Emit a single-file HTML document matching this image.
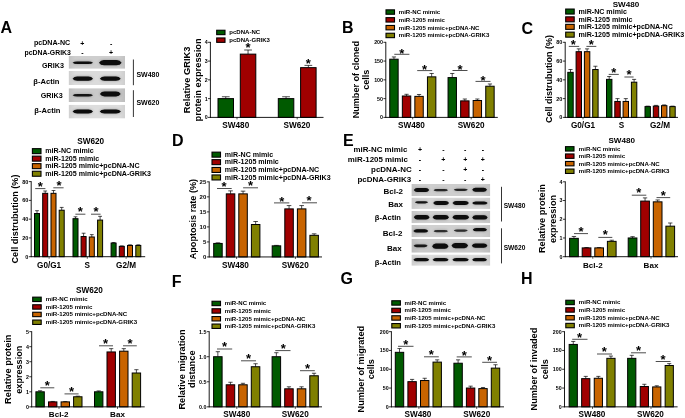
<!DOCTYPE html>
<html><head><meta charset="utf-8"><title>figure</title>
<style>html,body{margin:0;padding:0;background:#fff}svg{display:block;filter:blur(0.3px)}text{font-family:"Liberation Sans",Arial,Helvetica,sans-serif;font-weight:bold;fill:#000}</style></head>
<body>
<svg width="685" height="418" viewBox="0 0 685 418">
<defs><filter id="bl" x="-30%" y="-100%" width="160%" height="300%"><feGaussianBlur stdDeviation="0.7"/></filter><filter id="bh" x="-40%" y="-200%" width="180%" height="500%"><feGaussianBlur stdDeviation="1.6"/></filter><linearGradient id="vg" x1="0" x2="1" y1="0" y2="0"><stop offset="0" stop-color="#000" stop-opacity="0.06"/><stop offset="0.12" stop-color="#000" stop-opacity="0"/><stop offset="0.88" stop-color="#000" stop-opacity="0"/><stop offset="1" stop-color="#000" stop-opacity="0.06"/></linearGradient></defs>
<rect width="685" height="418" fill="#fff"/>
<text x="0.6" y="32.9" font-size="16" text-anchor="start">A</text>
<clipPath id="c1"><rect x="68.6" y="56.0" width="56.40" height="12.80"/></clipPath>
<g clip-path="url(#c1)">
<rect x="68.6" y="56.0" width="56.40" height="12.80" fill="#cecece"/>
<rect x="68.6" y="56.0" width="56.40" height="12.80" fill="url(#vg)"/>
<path d="M72.60,62.80 Q74.03,61.55 77.19,61.55 L88.41,61.55 Q91.57,61.55 93.00,62.80 Q91.57,64.05 88.41,64.05 L77.19,64.05 Q74.03,64.05 72.60,62.80Z" fill="#000" opacity="0.30" filter="url(#bh)"/>
<path d="M72.60,62.80 Q74.03,61.55 77.19,61.55 L88.41,61.55 Q91.57,61.55 93.00,62.80 Q91.57,64.05 88.41,64.05 L77.19,64.05 Q74.03,64.05 72.60,62.80Z" fill="#080808" opacity="1" filter="url(#bl)"/>
<path d="M99.00,62.70 Q100.58,60.10 104.08,60.10 L116.52,60.10 Q120.02,60.10 121.60,62.70 Q120.02,65.30 116.52,65.30 L104.08,65.30 Q100.58,65.30 99.00,62.70Z" fill="#000" opacity="0.30" filter="url(#bh)"/>
<path d="M99.00,62.70 Q100.58,60.10 104.08,60.10 L116.52,60.10 Q120.02,60.10 121.60,62.70 Q120.02,65.30 116.52,65.30 L104.08,65.30 Q100.58,65.30 99.00,62.70Z" fill="#080808" opacity="1" filter="url(#bl)"/>
</g>
<clipPath id="c2"><rect x="68.6" y="71.0" width="56.40" height="14.10"/></clipPath>
<g clip-path="url(#c2)">
<rect x="68.6" y="71.0" width="56.40" height="14.10" fill="#dbdbdb"/>
<rect x="68.6" y="71.0" width="56.40" height="14.10" fill="url(#vg)"/>
<path d="M72.60,78.65 Q74.03,76.55 77.19,76.55 L88.41,76.55 Q91.57,76.55 93.00,78.65 Q91.57,80.75 88.41,80.75 L77.19,80.75 Q74.03,80.75 72.60,78.65Z" fill="#000" opacity="0.30" filter="url(#bh)"/>
<path d="M72.60,78.65 Q74.03,76.55 77.19,76.55 L88.41,76.55 Q91.57,76.55 93.00,78.65 Q91.57,80.75 88.41,80.75 L77.19,80.75 Q74.03,80.75 72.60,78.65Z" fill="#080808" opacity="1" filter="url(#bl)"/>
<path d="M99.90,78.65 Q101.36,76.55 104.58,76.55 L116.02,76.55 Q119.24,76.55 120.70,78.65 Q119.24,80.75 116.02,80.75 L104.58,80.75 Q101.36,80.75 99.90,78.65Z" fill="#000" opacity="0.30" filter="url(#bh)"/>
<path d="M99.90,78.65 Q101.36,76.55 104.58,76.55 L116.02,76.55 Q119.24,76.55 120.70,78.65 Q119.24,80.75 116.02,80.75 L104.58,80.75 Q101.36,80.75 99.90,78.65Z" fill="#080808" opacity="1" filter="url(#bl)"/>
</g>
<clipPath id="c3"><rect x="68.6" y="88.2" width="56.40" height="13.80"/></clipPath>
<g clip-path="url(#c3)">
<rect x="68.6" y="88.2" width="56.40" height="13.80" fill="#c9c9c9"/>
<rect x="68.6" y="88.2" width="56.40" height="13.80" fill="url(#vg)"/>
<path d="M72.60,95.30 Q74.03,94.10 77.19,94.10 L88.41,94.10 Q91.57,94.10 93.00,95.30 Q91.57,96.50 88.41,96.50 L77.19,96.50 Q74.03,96.50 72.60,95.30Z" fill="#000" opacity="0.28" filter="url(#bh)"/>
<path d="M72.60,95.30 Q74.03,94.10 77.19,94.10 L88.41,94.10 Q91.57,94.10 93.00,95.30 Q91.57,96.50 88.41,96.50 L77.19,96.50 Q74.03,96.50 72.60,95.30Z" fill="#080808" opacity="0.95" filter="url(#bl)"/>
<path d="M99.90,94.00 Q101.36,91.60 104.58,91.60 L116.02,91.60 Q119.24,91.60 120.70,94.00 Q119.24,96.40 116.02,96.40 L104.58,96.40 Q101.36,96.40 99.90,94.00Z" fill="#000" opacity="0.30" filter="url(#bh)"/>
<path d="M99.90,94.00 Q101.36,91.60 104.58,91.60 L116.02,91.60 Q119.24,91.60 120.70,94.00 Q119.24,96.40 116.02,96.40 L104.58,96.40 Q101.36,96.40 99.90,94.00Z" fill="#080808" opacity="1" filter="url(#bl)"/>
</g>
<clipPath id="c4"><rect x="68.6" y="104.7" width="56.40" height="13.90"/></clipPath>
<g clip-path="url(#c4)">
<rect x="68.6" y="104.7" width="56.40" height="13.90" fill="#dddddd"/>
<rect x="68.6" y="104.7" width="56.40" height="13.90" fill="url(#vg)"/>
<path d="M72.60,111.55 Q74.03,109.55 77.19,109.55 L88.41,109.55 Q91.57,109.55 93.00,111.55 Q91.57,113.55 88.41,113.55 L77.19,113.55 Q74.03,113.55 72.60,111.55Z" fill="#000" opacity="0.30" filter="url(#bh)"/>
<path d="M72.60,111.55 Q74.03,109.55 77.19,109.55 L88.41,109.55 Q91.57,109.55 93.00,111.55 Q91.57,113.55 88.41,113.55 L77.19,113.55 Q74.03,113.55 72.60,111.55Z" fill="#080808" opacity="1" filter="url(#bl)"/>
<path d="M99.70,111.55 Q101.18,109.55 104.47,109.55 L116.13,109.55 Q119.42,109.55 120.90,111.55 Q119.42,113.55 116.13,113.55 L104.47,113.55 Q101.18,113.55 99.70,111.55Z" fill="#000" opacity="0.30" filter="url(#bh)"/>
<path d="M99.70,111.55 Q101.18,109.55 104.47,109.55 L116.13,109.55 Q119.42,109.55 120.90,111.55 Q119.42,113.55 116.13,113.55 L104.47,113.55 Q101.18,113.55 99.70,111.55Z" fill="#080808" opacity="1" filter="url(#bl)"/>
</g>
<text x="70.2" y="44.8" font-size="7.1" text-anchor="end">pcDNA-NC</text>
<text x="70.9" y="54.5" font-size="6.9" text-anchor="end">pcDNA-GRIK3</text>
<text x="82.3" y="45.7" font-size="7.0" text-anchor="middle">+</text>
<text x="111.1" y="45.7" font-size="7.0" text-anchor="middle">-</text>
<text x="82.3" y="55.4" font-size="7.0" text-anchor="middle">-</text>
<text x="111.1" y="55.4" font-size="7.0" text-anchor="middle">+</text>
<text x="63.9" y="68.0" font-size="7.2" text-anchor="end">GRIK3</text>
<text x="59.5" y="84.0" font-size="7.6" text-anchor="end">β-Actin</text>
<text x="62.7" y="98.2" font-size="7.2" text-anchor="end">GRIK3</text>
<text x="60.5" y="113.3" font-size="7.6" text-anchor="end">β-Actin</text>
<line x1="133.40" y1="59.50" x2="133.40" y2="85.20" stroke="#000" stroke-width="0.8"/>
<line x1="133.40" y1="90.20" x2="133.40" y2="117.00" stroke="#000" stroke-width="0.8"/>
<text x="136.4" y="76.6" font-size="7.0" text-anchor="start">SW480</text>
<text x="136.4" y="105.4" font-size="7.0" text-anchor="start">SW620</text>
<line x1="225.75" y1="98.62" x2="225.75" y2="96.75" stroke="#000" stroke-width="0.7"/>
<line x1="221.88" y1="96.75" x2="229.62" y2="96.75" stroke="#000" stroke-width="0.7"/>
<rect x="218.00" y="98.62" width="15.50" height="18.78" fill="#005a00" stroke="#000" stroke-width="1.0"/>
<line x1="248.05" y1="54.13" x2="248.05" y2="50.00" stroke="#000" stroke-width="0.7"/>
<line x1="244.18" y1="50.00" x2="251.93" y2="50.00" stroke="#000" stroke-width="0.7"/>
<rect x="240.30" y="54.13" width="15.50" height="63.27" fill="#a00000" stroke="#000" stroke-width="1.0"/>
<line x1="286.05" y1="98.62" x2="286.05" y2="96.75" stroke="#000" stroke-width="0.7"/>
<line x1="282.18" y1="96.75" x2="289.93" y2="96.75" stroke="#000" stroke-width="0.7"/>
<rect x="278.30" y="98.62" width="15.50" height="18.78" fill="#005a00" stroke="#000" stroke-width="1.0"/>
<line x1="308.35" y1="67.65" x2="308.35" y2="65.39" stroke="#000" stroke-width="0.7"/>
<line x1="304.48" y1="65.39" x2="312.23" y2="65.39" stroke="#000" stroke-width="0.7"/>
<rect x="300.60" y="67.65" width="15.50" height="49.75" fill="#a00000" stroke="#000" stroke-width="1.0"/>
<line x1="210.40" y1="41.90" x2="210.40" y2="117.80" stroke="#000" stroke-width="0.9"/>
<line x1="210.00" y1="117.40" x2="323.50" y2="117.40" stroke="#000" stroke-width="0.9"/>
<line x1="208.00" y1="117.40" x2="210.40" y2="117.40" stroke="#000" stroke-width="0.8"/>
<text x="207.6" y="119.31" font-size="5.3" text-anchor="end">0</text>
<line x1="208.00" y1="98.62" x2="210.40" y2="98.62" stroke="#000" stroke-width="0.8"/>
<text x="207.6" y="100.53" font-size="5.3" text-anchor="end">1</text>
<line x1="208.00" y1="79.85" x2="210.40" y2="79.85" stroke="#000" stroke-width="0.8"/>
<text x="207.6" y="81.76" font-size="5.3" text-anchor="end">2</text>
<line x1="208.00" y1="61.08" x2="210.40" y2="61.08" stroke="#000" stroke-width="0.8"/>
<text x="207.6" y="62.98" font-size="5.3" text-anchor="end">3</text>
<line x1="208.00" y1="42.30" x2="210.40" y2="42.30" stroke="#000" stroke-width="0.8"/>
<text x="207.6" y="44.21" font-size="5.3" text-anchor="end">4</text>
<line x1="237.00" y1="117.40" x2="237.00" y2="119.40" stroke="#000" stroke-width="0.7"/>
<text x="235.8" y="127.9" font-size="8.2" text-anchor="middle">SW480</text>
<line x1="297.20" y1="117.40" x2="297.20" y2="119.40" stroke="#000" stroke-width="0.7"/>
<text x="296.9" y="127.9" font-size="8.2" text-anchor="middle">SW620</text>
<text x="190.1" y="79.9" font-size="9.3" text-anchor="middle" transform="rotate(-90 190.1 79.9)">Relative GRIK3</text>
<text x="200.6" y="79.9" font-size="9.3" text-anchor="middle" transform="rotate(-90 200.6 79.9)">protein expression</text>
<text x="248.1" y="52.4" font-size="13" text-anchor="middle" font-weight="normal">*</text>
<text x="308.3" y="68.0" font-size="13" text-anchor="middle" font-weight="normal">*</text>
<rect x="216.70" y="30.25" width="8.30" height="4.4" fill="#005a00" stroke="#000" stroke-width="1.1"/>
<text x="229.3" y="34.38" font-size="6.05" text-anchor="start">pcDNA-NC</text>
<rect x="216.70" y="37.95" width="8.30" height="4.4" fill="#a00000" stroke="#000" stroke-width="1.1"/>
<text x="229.3" y="42.08" font-size="6.05" text-anchor="start">pcDNA-GRIK3</text>
<text x="342.1" y="33.3" font-size="16" text-anchor="start">B</text>
<line x1="393.95" y1="59.20" x2="393.95" y2="56.94" stroke="#000" stroke-width="0.7"/>
<line x1="391.85" y1="56.94" x2="396.05" y2="56.94" stroke="#000" stroke-width="0.7"/>
<rect x="389.75" y="59.20" width="8.40" height="58.20" fill="#005a00" stroke="#000" stroke-width="1.0"/>
<line x1="406.55" y1="96.00" x2="406.55" y2="94.31" stroke="#000" stroke-width="0.7"/>
<line x1="404.45" y1="94.31" x2="408.65" y2="94.31" stroke="#000" stroke-width="0.7"/>
<rect x="402.35" y="96.00" width="8.40" height="21.40" fill="#a00000" stroke="#000" stroke-width="1.0"/>
<line x1="419.05" y1="96.37" x2="419.05" y2="94.49" stroke="#000" stroke-width="0.7"/>
<line x1="416.95" y1="94.49" x2="421.15" y2="94.49" stroke="#000" stroke-width="0.7"/>
<rect x="414.85" y="96.37" width="8.40" height="21.03" fill="#c86400" stroke="#000" stroke-width="1.0"/>
<line x1="431.65" y1="76.85" x2="431.65" y2="73.47" stroke="#000" stroke-width="0.7"/>
<line x1="429.55" y1="73.47" x2="433.75" y2="73.47" stroke="#000" stroke-width="0.7"/>
<rect x="427.45" y="76.85" width="8.40" height="40.55" fill="#808000" stroke="#000" stroke-width="1.0"/>
<line x1="452.25" y1="77.60" x2="452.25" y2="73.47" stroke="#000" stroke-width="0.7"/>
<line x1="450.15" y1="73.47" x2="454.35" y2="73.47" stroke="#000" stroke-width="0.7"/>
<rect x="448.05" y="77.60" width="8.40" height="39.80" fill="#005a00" stroke="#000" stroke-width="1.0"/>
<line x1="464.85" y1="100.88" x2="464.85" y2="99.00" stroke="#000" stroke-width="0.7"/>
<line x1="462.75" y1="99.00" x2="466.95" y2="99.00" stroke="#000" stroke-width="0.7"/>
<rect x="460.65" y="100.88" width="8.40" height="16.52" fill="#a00000" stroke="#000" stroke-width="1.0"/>
<line x1="477.35" y1="100.50" x2="477.35" y2="99.00" stroke="#000" stroke-width="0.7"/>
<line x1="475.25" y1="99.00" x2="479.45" y2="99.00" stroke="#000" stroke-width="0.7"/>
<rect x="473.15" y="100.50" width="8.40" height="16.90" fill="#c86400" stroke="#000" stroke-width="1.0"/>
<line x1="489.95" y1="86.23" x2="489.95" y2="83.98" stroke="#000" stroke-width="0.7"/>
<line x1="487.85" y1="83.98" x2="492.05" y2="83.98" stroke="#000" stroke-width="0.7"/>
<rect x="485.75" y="86.23" width="8.40" height="31.17" fill="#808000" stroke="#000" stroke-width="1.0"/>
<line x1="385.80" y1="41.90" x2="385.80" y2="117.80" stroke="#000" stroke-width="0.9"/>
<line x1="385.40" y1="117.40" x2="497.80" y2="117.40" stroke="#000" stroke-width="0.9"/>
<line x1="383.40" y1="117.40" x2="385.80" y2="117.40" stroke="#000" stroke-width="0.8"/>
<text x="383.0" y="119.31" font-size="5.3" text-anchor="end">0</text>
<line x1="383.40" y1="98.62" x2="385.80" y2="98.62" stroke="#000" stroke-width="0.8"/>
<text x="383.0" y="100.53" font-size="5.3" text-anchor="end">50</text>
<line x1="383.40" y1="79.85" x2="385.80" y2="79.85" stroke="#000" stroke-width="0.8"/>
<text x="383.0" y="81.76" font-size="5.3" text-anchor="end">100</text>
<line x1="383.40" y1="61.07" x2="385.80" y2="61.07" stroke="#000" stroke-width="0.8"/>
<text x="383.0" y="62.98" font-size="5.3" text-anchor="end">150</text>
<line x1="383.40" y1="42.30" x2="385.80" y2="42.30" stroke="#000" stroke-width="0.8"/>
<text x="383.0" y="44.21" font-size="5.3" text-anchor="end">200</text>
<line x1="412.70" y1="117.40" x2="412.70" y2="119.40" stroke="#000" stroke-width="0.7"/>
<text x="411.5" y="127.9" font-size="8.2" text-anchor="middle">SW480</text>
<line x1="471.20" y1="117.40" x2="471.20" y2="119.40" stroke="#000" stroke-width="0.7"/>
<text x="471.1" y="127.9" font-size="8.2" text-anchor="middle">SW620</text>
<line x1="394.30" y1="54.30" x2="409.40" y2="54.30" stroke="#000" stroke-width="0.7"/>
<text x="401.8" y="57.5" font-size="13" text-anchor="middle" font-weight="normal">*</text>
<line x1="417.20" y1="70.60" x2="432.20" y2="70.60" stroke="#000" stroke-width="0.7"/>
<text x="424.5" y="73.79999999999998" font-size="13" text-anchor="middle" font-weight="normal">*</text>
<line x1="452.50" y1="70.50" x2="467.50" y2="70.50" stroke="#000" stroke-width="0.7"/>
<text x="460" y="73.69999999999999" font-size="13" text-anchor="middle" font-weight="normal">*</text>
<line x1="475.50" y1="81.40" x2="490.50" y2="81.40" stroke="#000" stroke-width="0.7"/>
<text x="483" y="84.6" font-size="13" text-anchor="middle" font-weight="normal">*</text>
<text x="358.6" y="79.7" font-size="9.1" text-anchor="middle" transform="rotate(-90 358.6 79.7)">Number of cloned</text>
<text x="369.3" y="79.7" font-size="9.1" text-anchor="middle" transform="rotate(-90 369.3 79.7)">cells</text>
<rect x="386.00" y="9.85" width="8.50" height="4.4" fill="#005a00" stroke="#000" stroke-width="1.1"/>
<text x="398.8" y="13.99" font-size="6.07" text-anchor="start">miR-NC mimic</text>
<rect x="386.00" y="17.65" width="8.50" height="4.4" fill="#a00000" stroke="#000" stroke-width="1.1"/>
<text x="398.8" y="21.79" font-size="6.07" text-anchor="start">miR-1205 mimic</text>
<rect x="386.00" y="25.45" width="8.50" height="4.4" fill="#c86400" stroke="#000" stroke-width="1.1"/>
<text x="398.8" y="29.59" font-size="6.07" text-anchor="start">miR-1205 mimic+pcDNA-NC</text>
<rect x="386.00" y="33.25" width="8.50" height="4.4" fill="#808000" stroke="#000" stroke-width="1.1"/>
<text x="398.8" y="37.39" font-size="6.07" text-anchor="start">miR-1205 mimic+pcDNA-GRIK3</text>
<text x="521.5" y="33.6" font-size="16" text-anchor="start">C</text>
<line x1="570.50" y1="72.34" x2="570.50" y2="69.52" stroke="#000" stroke-width="0.7"/>
<line x1="568.45" y1="69.52" x2="572.55" y2="69.52" stroke="#000" stroke-width="0.7"/>
<rect x="567.80" y="72.34" width="5.40" height="45.06" fill="#005a00" stroke="#000" stroke-width="1.0"/>
<line x1="578.80" y1="51.69" x2="578.80" y2="48.87" stroke="#000" stroke-width="0.7"/>
<line x1="576.75" y1="48.87" x2="580.85" y2="48.87" stroke="#000" stroke-width="0.7"/>
<rect x="576.10" y="51.69" width="5.40" height="65.71" fill="#a00000" stroke="#000" stroke-width="1.0"/>
<line x1="587.10" y1="51.69" x2="587.10" y2="48.87" stroke="#000" stroke-width="0.7"/>
<line x1="585.05" y1="48.87" x2="589.15" y2="48.87" stroke="#000" stroke-width="0.7"/>
<rect x="584.40" y="51.69" width="5.40" height="65.71" fill="#c86400" stroke="#000" stroke-width="1.0"/>
<line x1="595.40" y1="69.52" x2="595.40" y2="66.24" stroke="#000" stroke-width="0.7"/>
<line x1="593.35" y1="66.24" x2="597.45" y2="66.24" stroke="#000" stroke-width="0.7"/>
<rect x="592.70" y="69.52" width="5.40" height="47.88" fill="#808000" stroke="#000" stroke-width="1.0"/>
<line x1="609.20" y1="79.38" x2="609.20" y2="76.56" stroke="#000" stroke-width="0.7"/>
<line x1="607.15" y1="76.56" x2="611.25" y2="76.56" stroke="#000" stroke-width="0.7"/>
<rect x="606.50" y="79.38" width="5.40" height="38.02" fill="#005a00" stroke="#000" stroke-width="1.0"/>
<line x1="617.50" y1="101.44" x2="617.50" y2="98.62" stroke="#000" stroke-width="0.7"/>
<line x1="615.45" y1="98.62" x2="619.55" y2="98.62" stroke="#000" stroke-width="0.7"/>
<rect x="614.80" y="101.44" width="5.40" height="15.96" fill="#a00000" stroke="#000" stroke-width="1.0"/>
<line x1="625.80" y1="101.44" x2="625.80" y2="98.62" stroke="#000" stroke-width="0.7"/>
<line x1="623.75" y1="98.62" x2="627.85" y2="98.62" stroke="#000" stroke-width="0.7"/>
<rect x="623.10" y="101.44" width="5.40" height="15.96" fill="#c86400" stroke="#000" stroke-width="1.0"/>
<line x1="634.10" y1="82.20" x2="634.10" y2="79.38" stroke="#000" stroke-width="0.7"/>
<line x1="632.05" y1="79.38" x2="636.15" y2="79.38" stroke="#000" stroke-width="0.7"/>
<rect x="631.40" y="82.20" width="5.40" height="35.20" fill="#808000" stroke="#000" stroke-width="1.0"/>
<line x1="647.70" y1="106.60" x2="647.70" y2="106.14" stroke="#000" stroke-width="0.7"/>
<line x1="645.65" y1="106.14" x2="649.75" y2="106.14" stroke="#000" stroke-width="0.7"/>
<rect x="645.00" y="106.60" width="5.40" height="10.80" fill="#005a00" stroke="#000" stroke-width="1.0"/>
<line x1="656.00" y1="106.14" x2="656.00" y2="105.38" stroke="#000" stroke-width="0.7"/>
<line x1="653.95" y1="105.38" x2="658.05" y2="105.38" stroke="#000" stroke-width="0.7"/>
<rect x="653.30" y="106.14" width="5.40" height="11.27" fill="#a00000" stroke="#000" stroke-width="1.0"/>
<line x1="664.20" y1="105.67" x2="664.20" y2="104.91" stroke="#000" stroke-width="0.7"/>
<line x1="662.15" y1="104.91" x2="666.25" y2="104.91" stroke="#000" stroke-width="0.7"/>
<rect x="661.50" y="105.67" width="5.40" height="11.73" fill="#c86400" stroke="#000" stroke-width="1.0"/>
<line x1="672.50" y1="106.60" x2="672.50" y2="106.14" stroke="#000" stroke-width="0.7"/>
<line x1="670.45" y1="106.14" x2="674.55" y2="106.14" stroke="#000" stroke-width="0.7"/>
<rect x="669.80" y="106.60" width="5.40" height="10.80" fill="#808000" stroke="#000" stroke-width="1.0"/>
<line x1="565.20" y1="41.90" x2="565.20" y2="117.80" stroke="#000" stroke-width="0.9"/>
<line x1="564.80" y1="117.40" x2="678.00" y2="117.40" stroke="#000" stroke-width="0.9"/>
<line x1="562.80" y1="117.40" x2="565.20" y2="117.40" stroke="#000" stroke-width="0.8"/>
<text x="562.4000000000001" y="119.38" font-size="5.5" text-anchor="end">0</text>
<line x1="562.80" y1="98.62" x2="565.20" y2="98.62" stroke="#000" stroke-width="0.8"/>
<text x="562.4000000000001" y="100.61" font-size="5.5" text-anchor="end">20</text>
<line x1="562.80" y1="79.85" x2="565.20" y2="79.85" stroke="#000" stroke-width="0.8"/>
<text x="562.4000000000001" y="81.83" font-size="5.5" text-anchor="end">40</text>
<line x1="562.80" y1="61.08" x2="565.20" y2="61.08" stroke="#000" stroke-width="0.8"/>
<text x="562.4000000000001" y="63.05" font-size="5.5" text-anchor="end">60</text>
<line x1="562.80" y1="42.30" x2="565.20" y2="42.30" stroke="#000" stroke-width="0.8"/>
<text x="562.4000000000001" y="44.28" font-size="5.5" text-anchor="end">80</text>
<line x1="583.00" y1="117.40" x2="583.00" y2="119.40" stroke="#000" stroke-width="0.7"/>
<text x="583.0" y="128.2" font-size="8.2" text-anchor="middle">G0/G1</text>
<line x1="621.50" y1="117.40" x2="621.50" y2="119.40" stroke="#000" stroke-width="0.7"/>
<text x="621.5" y="128.2" font-size="8.2" text-anchor="middle">S</text>
<line x1="660.00" y1="117.40" x2="660.00" y2="119.40" stroke="#000" stroke-width="0.7"/>
<text x="660.0" y="128.2" font-size="8.2" text-anchor="middle">G2/M</text>
<line x1="568.80" y1="46.40" x2="579.20" y2="46.40" stroke="#000" stroke-width="0.7"/>
<text x="573.3" y="48.9" font-size="13" text-anchor="middle" font-weight="normal">*</text>
<line x1="586.40" y1="46.40" x2="596.30" y2="46.40" stroke="#000" stroke-width="0.7"/>
<text x="591.4" y="48.9" font-size="13" text-anchor="middle" font-weight="normal">*</text>
<line x1="608.70" y1="74.40" x2="618.80" y2="74.40" stroke="#000" stroke-width="0.7"/>
<text x="613.7" y="76.5" font-size="13" text-anchor="middle" font-weight="normal">*</text>
<line x1="624.40" y1="77.00" x2="633.60" y2="77.00" stroke="#000" stroke-width="0.7"/>
<text x="629.1" y="79.1" font-size="13" text-anchor="middle" font-weight="normal">*</text>
<text x="552.0" y="79" font-size="9.0" text-anchor="middle" transform="rotate(-90 552.0 79)">Cell distrubution (%)</text>
<rect x="565.70" y="9.05" width="8.50" height="5.0" fill="#005a00" stroke="#000" stroke-width="1.1"/>
<text x="578.4" y="13.86" font-size="7.1" text-anchor="start">miR-NC mimic</text>
<rect x="565.70" y="16.85" width="8.50" height="5.0" fill="#a00000" stroke="#000" stroke-width="1.1"/>
<text x="578.4" y="21.66" font-size="7.1" text-anchor="start">miR-1205 mimic</text>
<rect x="565.70" y="24.35" width="8.50" height="5.0" fill="#c86400" stroke="#000" stroke-width="1.1"/>
<text x="578.4" y="29.16" font-size="7.1" text-anchor="start">miR-1205 mimic+pcDNA-NC</text>
<rect x="565.70" y="32.15" width="8.50" height="5.0" fill="#808000" stroke="#000" stroke-width="1.1"/>
<text x="578.4" y="36.96" font-size="7.1" text-anchor="start">miR-1205 mimic+pcDNA-GRIK3</text>
<text x="626" y="6.8" font-size="8.1" text-anchor="middle">SW480</text>
<line x1="37.00" y1="213.52" x2="37.00" y2="210.70" stroke="#000" stroke-width="0.7"/>
<line x1="35.10" y1="210.70" x2="38.90" y2="210.70" stroke="#000" stroke-width="0.7"/>
<rect x="34.50" y="213.52" width="5.00" height="43.18" fill="#005a00" stroke="#000" stroke-width="1.0"/>
<line x1="45.20" y1="193.33" x2="45.20" y2="190.99" stroke="#000" stroke-width="0.7"/>
<line x1="43.30" y1="190.99" x2="47.10" y2="190.99" stroke="#000" stroke-width="0.7"/>
<rect x="42.70" y="193.33" width="5.00" height="63.37" fill="#a00000" stroke="#000" stroke-width="1.0"/>
<line x1="53.50" y1="193.33" x2="53.50" y2="190.52" stroke="#000" stroke-width="0.7"/>
<line x1="51.60" y1="190.52" x2="55.40" y2="190.52" stroke="#000" stroke-width="0.7"/>
<rect x="51.00" y="193.33" width="5.00" height="63.37" fill="#c86400" stroke="#000" stroke-width="1.0"/>
<line x1="61.70" y1="210.23" x2="61.70" y2="207.42" stroke="#000" stroke-width="0.7"/>
<line x1="59.80" y1="207.42" x2="63.60" y2="207.42" stroke="#000" stroke-width="0.7"/>
<rect x="59.20" y="210.23" width="5.00" height="46.47" fill="#808000" stroke="#000" stroke-width="1.0"/>
<line x1="75.50" y1="218.68" x2="75.50" y2="216.80" stroke="#000" stroke-width="0.7"/>
<line x1="73.60" y1="216.80" x2="77.40" y2="216.80" stroke="#000" stroke-width="0.7"/>
<rect x="73.00" y="218.68" width="5.00" height="38.02" fill="#005a00" stroke="#000" stroke-width="1.0"/>
<line x1="83.60" y1="236.52" x2="83.60" y2="233.23" stroke="#000" stroke-width="0.7"/>
<line x1="81.70" y1="233.23" x2="85.50" y2="233.23" stroke="#000" stroke-width="0.7"/>
<rect x="81.10" y="236.52" width="5.00" height="20.18" fill="#a00000" stroke="#000" stroke-width="1.0"/>
<line x1="91.80" y1="236.99" x2="91.80" y2="234.64" stroke="#000" stroke-width="0.7"/>
<line x1="89.90" y1="234.64" x2="93.70" y2="234.64" stroke="#000" stroke-width="0.7"/>
<rect x="89.30" y="236.99" width="5.00" height="19.71" fill="#c86400" stroke="#000" stroke-width="1.0"/>
<line x1="100.10" y1="220.09" x2="100.10" y2="216.33" stroke="#000" stroke-width="0.7"/>
<line x1="98.20" y1="216.33" x2="102.00" y2="216.33" stroke="#000" stroke-width="0.7"/>
<rect x="97.60" y="220.09" width="5.00" height="36.61" fill="#808000" stroke="#000" stroke-width="1.0"/>
<line x1="113.60" y1="243.09" x2="113.60" y2="242.52" stroke="#000" stroke-width="0.7"/>
<line x1="111.70" y1="242.52" x2="115.50" y2="242.52" stroke="#000" stroke-width="0.7"/>
<rect x="111.10" y="243.09" width="5.00" height="13.61" fill="#005a00" stroke="#000" stroke-width="1.0"/>
<line x1="121.80" y1="246.37" x2="121.80" y2="245.90" stroke="#000" stroke-width="0.7"/>
<line x1="119.90" y1="245.90" x2="123.70" y2="245.90" stroke="#000" stroke-width="0.7"/>
<rect x="119.30" y="246.37" width="5.00" height="10.33" fill="#a00000" stroke="#000" stroke-width="1.0"/>
<line x1="130.00" y1="245.44" x2="130.00" y2="244.87" stroke="#000" stroke-width="0.7"/>
<line x1="128.10" y1="244.87" x2="131.90" y2="244.87" stroke="#000" stroke-width="0.7"/>
<rect x="127.50" y="245.44" width="5.00" height="11.26" fill="#c86400" stroke="#000" stroke-width="1.0"/>
<line x1="138.30" y1="245.44" x2="138.30" y2="244.87" stroke="#000" stroke-width="0.7"/>
<line x1="136.40" y1="244.87" x2="140.20" y2="244.87" stroke="#000" stroke-width="0.7"/>
<rect x="135.80" y="245.44" width="5.00" height="11.26" fill="#808000" stroke="#000" stroke-width="1.0"/>
<line x1="31.20" y1="181.20" x2="31.20" y2="257.10" stroke="#000" stroke-width="0.9"/>
<line x1="30.80" y1="256.70" x2="145.20" y2="256.70" stroke="#000" stroke-width="0.9"/>
<line x1="28.80" y1="256.70" x2="31.20" y2="256.70" stroke="#000" stroke-width="0.8"/>
<text x="28.4" y="258.68" font-size="5.5" text-anchor="end">0</text>
<line x1="28.80" y1="237.92" x2="31.20" y2="237.92" stroke="#000" stroke-width="0.8"/>
<text x="28.4" y="239.9" font-size="5.5" text-anchor="end">20</text>
<line x1="28.80" y1="219.15" x2="31.20" y2="219.15" stroke="#000" stroke-width="0.8"/>
<text x="28.4" y="221.13" font-size="5.5" text-anchor="end">40</text>
<line x1="28.80" y1="200.38" x2="31.20" y2="200.38" stroke="#000" stroke-width="0.8"/>
<text x="28.4" y="202.35" font-size="5.5" text-anchor="end">60</text>
<line x1="28.80" y1="181.60" x2="31.20" y2="181.60" stroke="#000" stroke-width="0.8"/>
<text x="28.4" y="183.58" font-size="5.5" text-anchor="end">80</text>
<line x1="49.10" y1="256.70" x2="49.10" y2="258.70" stroke="#000" stroke-width="0.7"/>
<text x="49.1" y="267.7" font-size="8.2" text-anchor="middle">G0/G1</text>
<line x1="87.30" y1="256.70" x2="87.30" y2="258.70" stroke="#000" stroke-width="0.7"/>
<text x="87.3" y="267.7" font-size="8.2" text-anchor="middle">S</text>
<line x1="126.10" y1="256.70" x2="126.10" y2="258.70" stroke="#000" stroke-width="0.7"/>
<text x="126.1" y="267.7" font-size="8.2" text-anchor="middle">G2/M</text>
<line x1="35.20" y1="188.60" x2="45.40" y2="188.60" stroke="#000" stroke-width="0.7"/>
<text x="40.2" y="190.79999999999998" font-size="13" text-anchor="middle" font-weight="normal">*</text>
<line x1="53.30" y1="187.80" x2="63.60" y2="187.80" stroke="#000" stroke-width="0.7"/>
<text x="59.0" y="189.8" font-size="13" text-anchor="middle" font-weight="normal">*</text>
<line x1="75.40" y1="214.20" x2="85.40" y2="214.20" stroke="#000" stroke-width="0.7"/>
<text x="80.4" y="216.29999999999998" font-size="13" text-anchor="middle" font-weight="normal">*</text>
<line x1="91.00" y1="214.20" x2="100.60" y2="214.20" stroke="#000" stroke-width="0.7"/>
<text x="96.0" y="216.29999999999998" font-size="13" text-anchor="middle" font-weight="normal">*</text>
<text x="18.4" y="219" font-size="9.1" text-anchor="middle" transform="rotate(-90 18.4 219)">Cell distrubution (%)</text>
<rect x="32.40" y="148.65" width="8.60" height="5.0" fill="#005a00" stroke="#000" stroke-width="1.1"/>
<text x="45.2" y="153.46" font-size="7.1" text-anchor="start">miR-NC mimic</text>
<rect x="32.40" y="156.15" width="8.60" height="5.0" fill="#a00000" stroke="#000" stroke-width="1.1"/>
<text x="45.2" y="160.96" font-size="7.1" text-anchor="start">miR-1205 mimic</text>
<rect x="32.40" y="163.65" width="8.60" height="5.0" fill="#c86400" stroke="#000" stroke-width="1.1"/>
<text x="45.2" y="168.46" font-size="7.1" text-anchor="start">miR-1205 mimic+pcDNA-NC</text>
<rect x="32.40" y="171.25" width="8.60" height="5.0" fill="#808000" stroke="#000" stroke-width="1.1"/>
<text x="45.2" y="176.06" font-size="7.1" text-anchor="start">miR-1205 mimic+pcDNA-GRIK3</text>
<text x="90.7" y="144.1" font-size="8.2" text-anchor="middle">SW620</text>
<text x="172.05" y="145.5" font-size="16" text-anchor="start">D</text>
<line x1="217.95" y1="243.43" x2="217.95" y2="242.83" stroke="#000" stroke-width="0.7"/>
<line x1="215.66" y1="242.83" x2="220.24" y2="242.83" stroke="#000" stroke-width="0.7"/>
<rect x="213.70" y="243.43" width="8.50" height="13.52" fill="#005a00" stroke="#000" stroke-width="1.0"/>
<line x1="230.55" y1="193.87" x2="230.55" y2="190.86" stroke="#000" stroke-width="0.7"/>
<line x1="228.26" y1="190.86" x2="232.84" y2="190.86" stroke="#000" stroke-width="0.7"/>
<rect x="226.30" y="193.87" width="8.50" height="63.08" fill="#a00000" stroke="#000" stroke-width="1.0"/>
<line x1="243.05" y1="193.87" x2="243.05" y2="191.16" stroke="#000" stroke-width="0.7"/>
<line x1="240.76" y1="191.16" x2="245.34" y2="191.16" stroke="#000" stroke-width="0.7"/>
<rect x="238.80" y="193.87" width="8.50" height="63.08" fill="#c86400" stroke="#000" stroke-width="1.0"/>
<line x1="255.65" y1="224.51" x2="255.65" y2="221.50" stroke="#000" stroke-width="0.7"/>
<line x1="253.35" y1="221.50" x2="257.94" y2="221.50" stroke="#000" stroke-width="0.7"/>
<rect x="251.40" y="224.51" width="8.50" height="32.44" fill="#808000" stroke="#000" stroke-width="1.0"/>
<line x1="276.45" y1="245.84" x2="276.45" y2="245.38" stroke="#000" stroke-width="0.7"/>
<line x1="274.15" y1="245.38" x2="278.75" y2="245.38" stroke="#000" stroke-width="0.7"/>
<rect x="272.20" y="245.84" width="8.50" height="11.11" fill="#005a00" stroke="#000" stroke-width="1.0"/>
<line x1="289.05" y1="208.89" x2="289.05" y2="205.58" stroke="#000" stroke-width="0.7"/>
<line x1="286.75" y1="205.58" x2="291.35" y2="205.58" stroke="#000" stroke-width="0.7"/>
<rect x="284.80" y="208.89" width="8.50" height="48.06" fill="#a00000" stroke="#000" stroke-width="1.0"/>
<line x1="301.65" y1="208.89" x2="301.65" y2="205.58" stroke="#000" stroke-width="0.7"/>
<line x1="299.35" y1="205.58" x2="303.94" y2="205.58" stroke="#000" stroke-width="0.7"/>
<rect x="297.40" y="208.89" width="8.50" height="48.06" fill="#c86400" stroke="#000" stroke-width="1.0"/>
<line x1="314.15" y1="235.32" x2="314.15" y2="233.82" stroke="#000" stroke-width="0.7"/>
<line x1="311.85" y1="233.82" x2="316.44" y2="233.82" stroke="#000" stroke-width="0.7"/>
<rect x="309.90" y="235.32" width="8.50" height="21.63" fill="#808000" stroke="#000" stroke-width="1.0"/>
<line x1="209.20" y1="181.45" x2="209.20" y2="257.35" stroke="#000" stroke-width="0.9"/>
<line x1="208.80" y1="256.95" x2="322.00" y2="256.95" stroke="#000" stroke-width="0.9"/>
<line x1="206.90" y1="256.95" x2="209.20" y2="256.95" stroke="#000" stroke-width="0.8"/>
<text x="206.29999999999998" y="259.11" font-size="6.0" text-anchor="end">0</text>
<line x1="206.90" y1="241.93" x2="209.20" y2="241.93" stroke="#000" stroke-width="0.8"/>
<text x="206.29999999999998" y="244.09" font-size="6.0" text-anchor="end">5</text>
<line x1="206.90" y1="226.91" x2="209.20" y2="226.91" stroke="#000" stroke-width="0.8"/>
<text x="206.29999999999998" y="229.07" font-size="6.0" text-anchor="end">10</text>
<line x1="206.90" y1="211.89" x2="209.20" y2="211.89" stroke="#000" stroke-width="0.8"/>
<text x="206.29999999999998" y="214.05" font-size="6.0" text-anchor="end">15</text>
<line x1="206.90" y1="196.87" x2="209.20" y2="196.87" stroke="#000" stroke-width="0.8"/>
<text x="206.29999999999998" y="199.03" font-size="6.0" text-anchor="end">20</text>
<line x1="206.90" y1="181.85" x2="209.20" y2="181.85" stroke="#000" stroke-width="0.8"/>
<text x="206.29999999999998" y="184.01" font-size="6.0" text-anchor="end">25</text>
<line x1="236.60" y1="256.95" x2="236.60" y2="258.95" stroke="#000" stroke-width="0.7"/>
<text x="235.4" y="267.6" font-size="8.2" text-anchor="middle">SW480</text>
<line x1="295.40" y1="256.95" x2="295.40" y2="258.95" stroke="#000" stroke-width="0.7"/>
<text x="295.3" y="267.6" font-size="8.2" text-anchor="middle">SW620</text>
<line x1="217.00" y1="188.50" x2="231.70" y2="188.50" stroke="#000" stroke-width="0.7"/>
<text x="224" y="191.2" font-size="13" text-anchor="middle" font-weight="normal">*</text>
<line x1="243.10" y1="187.80" x2="258.00" y2="187.80" stroke="#000" stroke-width="0.7"/>
<text x="250.6" y="190.4" font-size="13" text-anchor="middle" font-weight="normal">*</text>
<line x1="274.00" y1="202.90" x2="289.30" y2="202.90" stroke="#000" stroke-width="0.7"/>
<text x="281.7" y="205.5" font-size="13" text-anchor="middle" font-weight="normal">*</text>
<line x1="302.00" y1="202.80" x2="317.00" y2="202.80" stroke="#000" stroke-width="0.7"/>
<text x="309" y="205.4" font-size="13" text-anchor="middle" font-weight="normal">*</text>
<text x="195.6" y="219.1" font-size="9.1" text-anchor="middle" transform="rotate(-90 195.6 219.1)">Apoptosis rate (%)</text>
<rect x="212.00" y="152.15" width="8.50" height="5.0" fill="#005a00" stroke="#000" stroke-width="1.1"/>
<text x="224.8" y="156.96" font-size="7.1" text-anchor="start">miR-NC mimic</text>
<rect x="212.00" y="159.65" width="8.50" height="5.0" fill="#a00000" stroke="#000" stroke-width="1.1"/>
<text x="224.8" y="164.46" font-size="7.1" text-anchor="start">miR-1205 mimic</text>
<rect x="212.00" y="167.45" width="8.50" height="5.0" fill="#c86400" stroke="#000" stroke-width="1.1"/>
<text x="224.8" y="172.26" font-size="7.1" text-anchor="start">miR-1205 mimic+pcDNA-NC</text>
<rect x="212.00" y="174.95" width="8.50" height="5.0" fill="#808000" stroke="#000" stroke-width="1.1"/>
<text x="224.8" y="179.76" font-size="7.1" text-anchor="start">miR-1205 mimic+pcDNA-GRIK3</text>
<text x="342.9" y="145.8" font-size="16" text-anchor="start">E</text>
<clipPath id="c5"><rect x="411.4" y="183.9" width="78.90" height="12.30"/></clipPath>
<g clip-path="url(#c5)">
<rect x="411.4" y="183.9" width="78.90" height="12.30" fill="#cecece"/>
<rect x="411.4" y="183.9" width="78.90" height="12.30" fill="url(#vg)"/>
<path d="M413.80,190.05 Q414.88,188.05 417.26,188.05 L425.74,188.05 Q428.12,188.05 429.20,190.05 Q428.12,192.05 425.74,192.05 L417.26,192.05 Q414.88,192.05 413.80,190.05Z" fill="#000" opacity="0.30" filter="url(#bh)"/>
<path d="M413.80,190.05 Q414.88,188.05 417.26,188.05 L425.74,188.05 Q428.12,188.05 429.20,190.05 Q428.12,192.05 425.74,192.05 L417.26,192.05 Q414.88,192.05 413.80,190.05Z" fill="#080808" opacity="1" filter="url(#bl)"/>
<path d="M433.60,190.15 Q434.61,189.00 436.84,189.00 L444.76,189.00 Q446.99,189.00 448.00,190.15 Q446.99,191.30 444.76,191.30 L436.84,191.30 Q434.61,191.30 433.60,190.15Z" fill="#000" opacity="0.26" filter="url(#bh)"/>
<path d="M433.60,190.15 Q434.61,189.00 436.84,189.00 L444.76,189.00 Q446.99,189.00 448.00,190.15 Q446.99,191.30 444.76,191.30 L436.84,191.30 Q434.61,191.30 433.60,190.15Z" fill="#080808" opacity="0.85" filter="url(#bl)"/>
<path d="M453.80,189.85 Q454.78,188.70 456.95,188.70 L464.65,188.70 Q466.82,188.70 467.80,189.85 Q466.82,191.00 464.65,191.00 L456.95,191.00 Q454.78,191.00 453.80,189.85Z" fill="#000" opacity="0.26" filter="url(#bh)"/>
<path d="M453.80,189.85 Q454.78,188.70 456.95,188.70 L464.65,188.70 Q466.82,188.70 467.80,189.85 Q466.82,191.00 464.65,191.00 L456.95,191.00 Q454.78,191.00 453.80,189.85Z" fill="#080808" opacity="0.85" filter="url(#bl)"/>
<path d="M472.20,189.65 Q473.24,187.65 475.53,187.65 L483.67,187.65 Q485.96,187.65 487.00,189.65 Q485.96,191.65 483.67,191.65 L475.53,191.65 Q473.24,191.65 472.20,189.65Z" fill="#000" opacity="0.30" filter="url(#bh)"/>
<path d="M472.20,189.65 Q473.24,187.65 475.53,187.65 L483.67,187.65 Q485.96,187.65 487.00,189.65 Q485.96,191.65 483.67,191.65 L475.53,191.65 Q473.24,191.65 472.20,189.65Z" fill="#080808" opacity="1" filter="url(#bl)"/>
</g>
<clipPath id="c6"><rect x="411.4" y="197.5" width="78.90" height="11.40"/></clipPath>
<g clip-path="url(#c6)">
<rect x="411.4" y="197.5" width="78.90" height="11.40" fill="#d6d6d6"/>
<rect x="411.4" y="197.5" width="78.90" height="11.40" fill="url(#vg)"/>
<path d="M414.90,202.30 Q415.82,201.15 417.87,201.15 L425.13,201.15 Q427.18,201.15 428.10,202.30 Q427.18,203.45 425.13,203.45 L417.87,203.45 Q415.82,203.45 414.90,202.30Z" fill="#000" opacity="0.28" filter="url(#bh)"/>
<path d="M414.90,202.30 Q415.82,201.15 417.87,201.15 L425.13,201.15 Q427.18,201.15 428.10,202.30 Q427.18,203.45 425.13,203.45 L417.87,203.45 Q415.82,203.45 414.90,202.30Z" fill="#080808" opacity="0.95" filter="url(#bl)"/>
<path d="M433.20,202.90 Q434.31,200.90 436.75,200.90 L445.45,200.90 Q447.89,200.90 449.00,202.90 Q447.89,204.90 445.45,204.90 L436.75,204.90 Q434.31,204.90 433.20,202.90Z" fill="#000" opacity="0.30" filter="url(#bh)"/>
<path d="M433.20,202.90 Q434.31,200.90 436.75,200.90 L445.45,200.90 Q447.89,200.90 449.00,202.90 Q447.89,204.90 445.45,204.90 L436.75,204.90 Q434.31,204.90 433.20,202.90Z" fill="#080808" opacity="1" filter="url(#bl)"/>
<path d="M452.50,203.10 Q453.65,201.10 456.19,201.10 L465.21,201.10 Q467.75,201.10 468.90,203.10 Q467.75,205.10 465.21,205.10 L456.19,205.10 Q453.65,205.10 452.50,203.10Z" fill="#000" opacity="0.30" filter="url(#bh)"/>
<path d="M452.50,203.10 Q453.65,201.10 456.19,201.10 L465.21,201.10 Q467.75,201.10 468.90,203.10 Q467.75,205.10 465.21,205.10 L456.19,205.10 Q453.65,205.10 452.50,203.10Z" fill="#080808" opacity="1" filter="url(#bl)"/>
<path d="M472.20,203.00 Q473.28,201.40 475.66,201.40 L484.13,201.40 Q486.52,201.40 487.60,203.00 Q486.52,204.60 484.13,204.60 L475.66,204.60 Q473.28,204.60 472.20,203.00Z" fill="#000" opacity="0.30" filter="url(#bh)"/>
<path d="M472.20,203.00 Q473.28,201.40 475.66,201.40 L484.13,201.40 Q486.52,201.40 487.60,203.00 Q486.52,204.60 484.13,204.60 L475.66,204.60 Q473.28,204.60 472.20,203.00Z" fill="#080808" opacity="1" filter="url(#bl)"/>
</g>
<clipPath id="c7"><rect x="411.4" y="211.0" width="78.90" height="12.20"/></clipPath>
<g clip-path="url(#c7)">
<rect x="411.4" y="211.0" width="78.90" height="12.20" fill="#d0d0d0"/>
<rect x="411.4" y="211.0" width="78.90" height="12.20" fill="url(#vg)"/>
<path d="M413.80,217.30 Q414.91,215.10 417.35,215.10 L426.05,215.10 Q428.49,215.10 429.60,217.30 Q428.49,219.50 426.05,219.50 L417.35,219.50 Q414.91,219.50 413.80,217.30Z" fill="#000" opacity="0.30" filter="url(#bh)"/>
<path d="M413.80,217.30 Q414.91,215.10 417.35,215.10 L426.05,215.10 Q428.49,215.10 429.60,217.30 Q428.49,219.50 426.05,219.50 L417.35,219.50 Q414.91,219.50 413.80,217.30Z" fill="#080808" opacity="1" filter="url(#bl)"/>
<path d="M432.60,217.30 Q433.75,215.10 436.29,215.10 L445.31,215.10 Q447.85,215.10 449.00,217.30 Q447.85,219.50 445.31,219.50 L436.29,219.50 Q433.75,219.50 432.60,217.30Z" fill="#000" opacity="0.30" filter="url(#bh)"/>
<path d="M432.60,217.30 Q433.75,215.10 436.29,215.10 L445.31,215.10 Q447.85,215.10 449.00,217.30 Q447.85,219.50 445.31,219.50 L436.29,219.50 Q433.75,219.50 432.60,217.30Z" fill="#080808" opacity="1" filter="url(#bl)"/>
<path d="M452.40,217.30 Q453.58,215.10 456.18,215.10 L465.42,215.10 Q468.02,215.10 469.20,217.30 Q468.02,219.50 465.42,219.50 L456.18,219.50 Q453.58,219.50 452.40,217.30Z" fill="#000" opacity="0.30" filter="url(#bh)"/>
<path d="M452.40,217.30 Q453.58,215.10 456.18,215.10 L465.42,215.10 Q468.02,215.10 469.20,217.30 Q468.02,219.50 465.42,219.50 L456.18,219.50 Q453.58,219.50 452.40,217.30Z" fill="#080808" opacity="1" filter="url(#bl)"/>
<path d="M472.20,217.40 Q473.28,215.20 475.66,215.20 L484.13,215.20 Q486.52,215.20 487.60,217.40 Q486.52,219.60 484.13,219.60 L475.66,219.60 Q473.28,219.60 472.20,217.40Z" fill="#000" opacity="0.30" filter="url(#bh)"/>
<path d="M472.20,217.40 Q473.28,215.20 475.66,215.20 L484.13,215.20 Q486.52,215.20 487.60,217.40 Q486.52,219.60 484.13,219.60 L475.66,219.60 Q473.28,219.60 472.20,217.40Z" fill="#080808" opacity="1" filter="url(#bl)"/>
</g>
<clipPath id="c8"><rect x="411.4" y="224.9" width="78.90" height="12.20"/></clipPath>
<g clip-path="url(#c8)">
<rect x="411.4" y="224.9" width="78.90" height="12.20" fill="#d0d0d0"/>
<rect x="411.4" y="224.9" width="78.90" height="12.20" fill="url(#vg)"/>
<path d="M413.40,230.90 Q414.44,229.30 416.73,229.30 L424.87,229.30 Q427.16,229.30 428.20,230.90 Q427.16,232.50 424.87,232.50 L416.73,232.50 Q414.44,232.50 413.40,230.90Z" fill="#000" opacity="0.30" filter="url(#bh)"/>
<path d="M413.40,230.90 Q414.44,229.30 416.73,229.30 L424.87,229.30 Q427.16,229.30 428.20,230.90 Q427.16,232.50 424.87,232.50 L416.73,232.50 Q414.44,232.50 413.40,230.90Z" fill="#080808" opacity="1" filter="url(#bl)"/>
<path d="M433.60,231.20 Q434.61,230.10 436.84,230.10 L444.76,230.10 Q446.99,230.10 448.00,231.20 Q446.99,232.30 444.76,232.30 L436.84,232.30 Q434.61,232.30 433.60,231.20Z" fill="#000" opacity="0.24" filter="url(#bh)"/>
<path d="M433.60,231.20 Q434.61,230.10 436.84,230.10 L444.76,230.10 Q446.99,230.10 448.00,231.20 Q446.99,232.30 444.76,232.30 L436.84,232.30 Q434.61,232.30 433.60,231.20Z" fill="#080808" opacity="0.8" filter="url(#bl)"/>
<path d="M453.80,230.60 Q454.78,229.50 456.95,229.50 L464.65,229.50 Q466.82,229.50 467.80,230.60 Q466.82,231.70 464.65,231.70 L456.95,231.70 Q454.78,231.70 453.80,230.60Z" fill="#000" opacity="0.24" filter="url(#bh)"/>
<path d="M453.80,230.60 Q454.78,229.50 456.95,229.50 L464.65,229.50 Q466.82,229.50 467.80,230.60 Q466.82,231.70 464.65,231.70 L456.95,231.70 Q454.78,231.70 453.80,230.60Z" fill="#080808" opacity="0.8" filter="url(#bl)"/>
<path d="M472.80,229.70 Q473.79,228.10 476.00,228.10 L483.80,228.10 Q486.01,228.10 487.00,229.70 Q486.01,231.30 483.80,231.30 L476.00,231.30 Q473.79,231.30 472.80,229.70Z" fill="#000" opacity="0.30" filter="url(#bh)"/>
<path d="M472.80,229.70 Q473.79,228.10 476.00,228.10 L483.80,228.10 Q486.01,228.10 487.00,229.70 Q486.01,231.30 483.80,231.30 L476.00,231.30 Q473.79,231.30 472.80,229.70Z" fill="#080808" opacity="1" filter="url(#bl)"/>
</g>
<clipPath id="c9"><rect x="411.4" y="239.0" width="78.90" height="13.70"/></clipPath>
<g clip-path="url(#c9)">
<rect x="411.4" y="239.0" width="78.90" height="13.70" fill="#c9c9c9"/>
<rect x="411.4" y="239.0" width="78.90" height="13.70" fill="url(#vg)"/>
<path d="M413.60,245.85 Q414.58,244.50 416.75,244.50 L424.45,244.50 Q426.62,244.50 427.60,245.85 Q426.62,247.20 424.45,247.20 L416.75,247.20 Q414.58,247.20 413.60,245.85Z" fill="#000" opacity="0.28" filter="url(#bh)"/>
<path d="M413.60,245.85 Q414.58,244.50 416.75,244.50 L424.45,244.50 Q426.62,244.50 427.60,245.85 Q426.62,247.20 424.45,247.20 L416.75,247.20 Q414.58,247.20 413.60,245.85Z" fill="#080808" opacity="0.92" filter="url(#bl)"/>
<path d="M432.10,246.15 Q433.25,243.55 435.79,243.55 L444.81,243.55 Q447.35,243.55 448.50,246.15 Q447.35,248.75 444.81,248.75 L435.79,248.75 Q433.25,248.75 432.10,246.15Z" fill="#000" opacity="0.30" filter="url(#bh)"/>
<path d="M432.10,246.15 Q433.25,243.55 435.79,243.55 L444.81,243.55 Q447.35,243.55 448.50,246.15 Q447.35,248.75 444.81,248.75 L435.79,248.75 Q433.25,248.75 432.10,246.15Z" fill="#080808" opacity="1" filter="url(#bl)"/>
<path d="M451.50,245.55 Q452.66,242.95 455.24,242.95 L464.37,242.95 Q466.94,242.95 468.10,245.55 Q466.94,248.15 464.37,248.15 L455.24,248.15 Q452.66,248.15 451.50,245.55Z" fill="#000" opacity="0.30" filter="url(#bh)"/>
<path d="M451.50,245.55 Q452.66,242.95 455.24,242.95 L464.37,242.95 Q466.94,242.95 468.10,245.55 Q466.94,248.15 464.37,248.15 L455.24,248.15 Q452.66,248.15 451.50,245.55Z" fill="#080808" opacity="1" filter="url(#bl)"/>
<path d="M471.80,245.65 Q472.89,243.55 475.31,243.55 L483.89,243.55 Q486.31,243.55 487.40,245.65 Q486.31,247.75 483.89,247.75 L475.31,247.75 Q472.89,247.75 471.80,245.65Z" fill="#000" opacity="0.30" filter="url(#bh)"/>
<path d="M471.80,245.65 Q472.89,243.55 475.31,243.55 L483.89,243.55 Q486.31,243.55 487.40,245.65 Q486.31,247.75 483.89,247.75 L475.31,247.75 Q472.89,247.75 471.80,245.65Z" fill="#080808" opacity="1" filter="url(#bl)"/>
</g>
<clipPath id="c10"><rect x="411.4" y="254.5" width="78.90" height="11.30"/></clipPath>
<g clip-path="url(#c10)">
<rect x="411.4" y="254.5" width="78.90" height="11.30" fill="#dcdcdc"/>
<rect x="411.4" y="254.5" width="78.90" height="11.30" fill="url(#vg)"/>
<path d="M413.40,259.65 Q414.51,257.95 416.95,257.95 L425.65,257.95 Q428.09,257.95 429.20,259.65 Q428.09,261.35 425.65,261.35 L416.95,261.35 Q414.51,261.35 413.40,259.65Z" fill="#000" opacity="0.30" filter="url(#bh)"/>
<path d="M413.40,259.65 Q414.51,257.95 416.95,257.95 L425.65,257.95 Q428.09,257.95 429.20,259.65 Q428.09,261.35 425.65,261.35 L416.95,261.35 Q414.51,261.35 413.40,259.65Z" fill="#080808" opacity="1" filter="url(#bl)"/>
<path d="M432.60,259.65 Q433.72,257.95 436.20,257.95 L445.00,257.95 Q447.48,257.95 448.60,259.65 Q447.48,261.35 445.00,261.35 L436.20,261.35 Q433.72,261.35 432.60,259.65Z" fill="#000" opacity="0.30" filter="url(#bh)"/>
<path d="M432.60,259.65 Q433.72,257.95 436.20,257.95 L445.00,257.95 Q447.48,257.95 448.60,259.65 Q447.48,261.35 445.00,261.35 L436.20,261.35 Q433.72,261.35 432.60,259.65Z" fill="#080808" opacity="1" filter="url(#bl)"/>
<path d="M452.40,259.65 Q453.55,257.95 456.09,257.95 L465.11,257.95 Q467.65,257.95 468.80,259.65 Q467.65,261.35 465.11,261.35 L456.09,261.35 Q453.55,261.35 452.40,259.65Z" fill="#000" opacity="0.30" filter="url(#bh)"/>
<path d="M452.40,259.65 Q453.55,257.95 456.09,257.95 L465.11,257.95 Q467.65,257.95 468.80,259.65 Q467.65,261.35 465.11,261.35 L456.09,261.35 Q453.55,261.35 452.40,259.65Z" fill="#080808" opacity="1" filter="url(#bl)"/>
<path d="M472.20,259.65 Q473.24,257.95 475.53,257.95 L483.67,257.95 Q485.96,257.95 487.00,259.65 Q485.96,261.35 483.67,261.35 L475.53,261.35 Q473.24,261.35 472.20,259.65Z" fill="#000" opacity="0.30" filter="url(#bh)"/>
<path d="M472.20,259.65 Q473.24,257.95 475.53,257.95 L483.67,257.95 Q485.96,257.95 487.00,259.65 Q485.96,261.35 483.67,261.35 L475.53,261.35 Q473.24,261.35 472.20,259.65Z" fill="#080808" opacity="1" filter="url(#bl)"/>
</g>
<text x="407.4" y="151.5" font-size="7.9" text-anchor="end">miR-NC mimic</text>
<text x="407.9" y="162.3" font-size="7.9" text-anchor="end">miR-1205 mimic</text>
<text x="411.7" y="172.2" font-size="7.95" text-anchor="end">pcDNA-NC</text>
<text x="411.2" y="182.4" font-size="8.0" text-anchor="end">pcDNA-GRIK3</text>
<text x="420.0" y="151.9" font-size="7.0" text-anchor="middle">+</text>
<text x="443.3" y="151.9" font-size="7.0" text-anchor="middle">-</text>
<text x="465.2" y="151.9" font-size="7.0" text-anchor="middle">-</text>
<text x="482.8" y="151.9" font-size="7.0" text-anchor="middle">-</text>
<text x="420.0" y="161.6" font-size="7.0" text-anchor="middle">-</text>
<text x="443.3" y="161.6" font-size="7.0" text-anchor="middle">+</text>
<text x="465.2" y="161.6" font-size="7.0" text-anchor="middle">+</text>
<text x="482.8" y="161.6" font-size="7.0" text-anchor="middle">+</text>
<text x="420.0" y="171.6" font-size="7.0" text-anchor="middle">-</text>
<text x="443.3" y="171.6" font-size="7.0" text-anchor="middle">-</text>
<text x="465.2" y="171.6" font-size="7.0" text-anchor="middle">+</text>
<text x="482.8" y="171.6" font-size="7.0" text-anchor="middle">-</text>
<text x="420.0" y="181.6" font-size="7.0" text-anchor="middle">-</text>
<text x="443.3" y="181.6" font-size="7.0" text-anchor="middle">-</text>
<text x="465.2" y="181.6" font-size="7.0" text-anchor="middle">-</text>
<text x="482.8" y="181.6" font-size="7.0" text-anchor="middle">+</text>
<text x="403.0" y="194.0" font-size="8.0" text-anchor="end">Bcl-2</text>
<text x="403.0" y="207.2" font-size="8.0" text-anchor="end">Bax</text>
<text x="401.0" y="219.8" font-size="7.6" text-anchor="end">β-Actin</text>
<text x="402.4" y="236.0" font-size="8.0" text-anchor="end">Bcl-2</text>
<text x="401.7" y="250.5" font-size="8.0" text-anchor="end">Bax</text>
<text x="401.0" y="264.5" font-size="7.6" text-anchor="end">β-Actin</text>
<line x1="501.50" y1="186.80" x2="501.50" y2="221.50" stroke="#000" stroke-width="0.8"/>
<line x1="501.50" y1="228.30" x2="501.50" y2="263.40" stroke="#000" stroke-width="0.8"/>
<text x="503.7" y="207.9" font-size="6.6" text-anchor="start">SW480</text>
<text x="503.7" y="249.5" font-size="6.6" text-anchor="start">SW620</text>
<line x1="573.95" y1="238.35" x2="573.95" y2="236.48" stroke="#000" stroke-width="0.7"/>
<line x1="571.78" y1="236.48" x2="576.12" y2="236.48" stroke="#000" stroke-width="0.7"/>
<rect x="569.60" y="238.35" width="8.70" height="18.35" fill="#005a00" stroke="#000" stroke-width="1.0"/>
<line x1="586.55" y1="247.90" x2="586.55" y2="247.52" stroke="#000" stroke-width="0.7"/>
<line x1="584.38" y1="247.52" x2="588.73" y2="247.52" stroke="#000" stroke-width="0.7"/>
<rect x="582.20" y="247.90" width="8.70" height="8.80" fill="#a00000" stroke="#000" stroke-width="1.0"/>
<line x1="599.15" y1="247.90" x2="599.15" y2="247.52" stroke="#000" stroke-width="0.7"/>
<line x1="596.98" y1="247.52" x2="601.33" y2="247.52" stroke="#000" stroke-width="0.7"/>
<rect x="594.80" y="247.90" width="8.70" height="8.80" fill="#c86400" stroke="#000" stroke-width="1.0"/>
<line x1="611.75" y1="241.35" x2="611.75" y2="240.22" stroke="#000" stroke-width="0.7"/>
<line x1="609.58" y1="240.22" x2="613.92" y2="240.22" stroke="#000" stroke-width="0.7"/>
<rect x="607.40" y="241.35" width="8.70" height="15.35" fill="#808000" stroke="#000" stroke-width="1.0"/>
<line x1="632.55" y1="237.97" x2="632.55" y2="236.66" stroke="#000" stroke-width="0.7"/>
<line x1="630.38" y1="236.66" x2="634.73" y2="236.66" stroke="#000" stroke-width="0.7"/>
<rect x="628.20" y="237.97" width="8.70" height="18.72" fill="#005a00" stroke="#000" stroke-width="1.0"/>
<line x1="645.05" y1="201.09" x2="645.05" y2="197.90" stroke="#000" stroke-width="0.7"/>
<line x1="642.88" y1="197.90" x2="647.23" y2="197.90" stroke="#000" stroke-width="0.7"/>
<rect x="640.70" y="201.09" width="8.70" height="55.61" fill="#a00000" stroke="#000" stroke-width="1.0"/>
<line x1="657.65" y1="201.84" x2="657.65" y2="199.96" stroke="#000" stroke-width="0.7"/>
<line x1="655.48" y1="199.96" x2="659.83" y2="199.96" stroke="#000" stroke-width="0.7"/>
<rect x="653.30" y="201.84" width="8.70" height="54.86" fill="#c86400" stroke="#000" stroke-width="1.0"/>
<line x1="670.25" y1="226.18" x2="670.25" y2="223.00" stroke="#000" stroke-width="0.7"/>
<line x1="668.08" y1="223.00" x2="672.42" y2="223.00" stroke="#000" stroke-width="0.7"/>
<rect x="665.90" y="226.18" width="8.70" height="30.52" fill="#808000" stroke="#000" stroke-width="1.0"/>
<line x1="565.30" y1="181.40" x2="565.30" y2="257.10" stroke="#000" stroke-width="0.9"/>
<line x1="564.90" y1="256.70" x2="678.00" y2="256.70" stroke="#000" stroke-width="0.9"/>
<line x1="562.90" y1="256.70" x2="565.30" y2="256.70" stroke="#000" stroke-width="0.8"/>
<text x="562.5" y="258.61" font-size="5.3" text-anchor="end">0</text>
<line x1="562.90" y1="237.97" x2="565.30" y2="237.97" stroke="#000" stroke-width="0.8"/>
<text x="562.5" y="239.88" font-size="5.3" text-anchor="end">1</text>
<line x1="562.90" y1="219.25" x2="565.30" y2="219.25" stroke="#000" stroke-width="0.8"/>
<text x="562.5" y="221.16" font-size="5.3" text-anchor="end">2</text>
<line x1="562.90" y1="200.53" x2="565.30" y2="200.53" stroke="#000" stroke-width="0.8"/>
<text x="562.5" y="202.43" font-size="5.3" text-anchor="end">3</text>
<line x1="562.90" y1="181.80" x2="565.30" y2="181.80" stroke="#000" stroke-width="0.8"/>
<text x="562.5" y="183.71" font-size="5.3" text-anchor="end">4</text>
<line x1="592.80" y1="256.70" x2="592.80" y2="258.70" stroke="#000" stroke-width="0.7"/>
<text x="592.8" y="267.6" font-size="8.05" text-anchor="middle">Bcl-2</text>
<line x1="651.00" y1="256.70" x2="651.00" y2="258.70" stroke="#000" stroke-width="0.7"/>
<text x="651.0" y="267.6" font-size="8.05" text-anchor="middle">Bax</text>
<line x1="574.00" y1="233.60" x2="588.00" y2="233.60" stroke="#000" stroke-width="0.7"/>
<text x="581" y="235.5" font-size="13" text-anchor="middle" font-weight="normal">*</text>
<line x1="598.30" y1="237.40" x2="612.30" y2="237.40" stroke="#000" stroke-width="0.7"/>
<text x="605.3" y="239.3" font-size="13" text-anchor="middle" font-weight="normal">*</text>
<line x1="631.80" y1="195.20" x2="646.30" y2="195.20" stroke="#000" stroke-width="0.7"/>
<text x="638.7" y="197.1" font-size="13" text-anchor="middle" font-weight="normal">*</text>
<line x1="656.50" y1="197.60" x2="670.20" y2="197.60" stroke="#000" stroke-width="0.7"/>
<text x="663.4" y="199.5" font-size="13" text-anchor="middle" font-weight="normal">*</text>
<text x="545.3" y="218.6" font-size="9.2" text-anchor="middle" transform="rotate(-90 545.3 218.6)">Relative protein</text>
<text x="555.8" y="219.0" font-size="9.1" text-anchor="middle" transform="rotate(-90 555.8 219.0)">expression</text>
<rect x="565.50" y="146.65" width="8.50" height="4.4" fill="#005a00" stroke="#000" stroke-width="1.1"/>
<text x="578.8" y="150.79" font-size="6.08" text-anchor="start">miR-NC mimic</text>
<rect x="565.50" y="153.95" width="8.50" height="4.4" fill="#a00000" stroke="#000" stroke-width="1.1"/>
<text x="578.8" y="158.09" font-size="6.08" text-anchor="start">miR-1205 mimic</text>
<rect x="565.50" y="161.45" width="8.50" height="4.4" fill="#c86400" stroke="#000" stroke-width="1.1"/>
<text x="578.8" y="165.59" font-size="6.08" text-anchor="start">miR-1205 mimic+pcDNA-NC</text>
<rect x="565.50" y="169.05" width="8.50" height="4.4" fill="#808000" stroke="#000" stroke-width="1.1"/>
<text x="578.8" y="173.19" font-size="6.08" text-anchor="start">miR-1205 mimic+pcDNA-GRIK3</text>
<text x="621.7" y="142.9" font-size="8.1" text-anchor="middle">SW480</text>
<line x1="40.10" y1="391.81" x2="40.10" y2="390.76" stroke="#000" stroke-width="0.7"/>
<line x1="38.00" y1="390.76" x2="42.20" y2="390.76" stroke="#000" stroke-width="0.7"/>
<rect x="35.90" y="391.81" width="8.40" height="15.04" fill="#005a00" stroke="#000" stroke-width="1.0"/>
<line x1="52.70" y1="401.89" x2="52.70" y2="401.44" stroke="#000" stroke-width="0.7"/>
<line x1="50.60" y1="401.44" x2="54.80" y2="401.44" stroke="#000" stroke-width="0.7"/>
<rect x="48.50" y="401.89" width="8.40" height="4.96" fill="#a00000" stroke="#000" stroke-width="1.0"/>
<line x1="65.30" y1="401.89" x2="65.30" y2="401.59" stroke="#000" stroke-width="0.7"/>
<line x1="63.20" y1="401.59" x2="67.40" y2="401.59" stroke="#000" stroke-width="0.7"/>
<rect x="61.10" y="401.89" width="8.40" height="4.96" fill="#c86400" stroke="#000" stroke-width="1.0"/>
<line x1="77.80" y1="396.77" x2="77.80" y2="396.17" stroke="#000" stroke-width="0.7"/>
<line x1="75.70" y1="396.17" x2="79.90" y2="396.17" stroke="#000" stroke-width="0.7"/>
<rect x="73.60" y="396.77" width="8.40" height="10.08" fill="#808000" stroke="#000" stroke-width="1.0"/>
<line x1="98.70" y1="391.81" x2="98.70" y2="390.91" stroke="#000" stroke-width="0.7"/>
<line x1="96.60" y1="390.91" x2="100.80" y2="390.91" stroke="#000" stroke-width="0.7"/>
<rect x="94.50" y="391.81" width="8.40" height="15.04" fill="#005a00" stroke="#000" stroke-width="1.0"/>
<line x1="111.20" y1="351.95" x2="111.20" y2="348.65" stroke="#000" stroke-width="0.7"/>
<line x1="109.10" y1="348.65" x2="113.30" y2="348.65" stroke="#000" stroke-width="0.7"/>
<rect x="107.00" y="351.95" width="8.40" height="54.90" fill="#a00000" stroke="#000" stroke-width="1.0"/>
<line x1="123.80" y1="351.20" x2="123.80" y2="348.65" stroke="#000" stroke-width="0.7"/>
<line x1="121.70" y1="348.65" x2="125.90" y2="348.65" stroke="#000" stroke-width="0.7"/>
<rect x="119.60" y="351.20" width="8.40" height="55.65" fill="#c86400" stroke="#000" stroke-width="1.0"/>
<line x1="136.40" y1="373.01" x2="136.40" y2="369.70" stroke="#000" stroke-width="0.7"/>
<line x1="134.30" y1="369.70" x2="138.50" y2="369.70" stroke="#000" stroke-width="0.7"/>
<rect x="132.20" y="373.01" width="8.40" height="33.84" fill="#808000" stroke="#000" stroke-width="1.0"/>
<line x1="31.70" y1="331.25" x2="31.70" y2="407.25" stroke="#000" stroke-width="0.9"/>
<line x1="31.30" y1="406.85" x2="144.70" y2="406.85" stroke="#000" stroke-width="0.9"/>
<line x1="29.30" y1="406.85" x2="31.70" y2="406.85" stroke="#000" stroke-width="0.8"/>
<text x="28.9" y="408.76" font-size="5.3" text-anchor="end">0</text>
<line x1="29.30" y1="391.81" x2="31.70" y2="391.81" stroke="#000" stroke-width="0.8"/>
<text x="28.9" y="393.72" font-size="5.3" text-anchor="end">1</text>
<line x1="29.30" y1="376.77" x2="31.70" y2="376.77" stroke="#000" stroke-width="0.8"/>
<text x="28.9" y="378.68" font-size="5.3" text-anchor="end">2</text>
<line x1="29.30" y1="361.73" x2="31.70" y2="361.73" stroke="#000" stroke-width="0.8"/>
<text x="28.9" y="363.64" font-size="5.3" text-anchor="end">3</text>
<line x1="29.30" y1="346.69" x2="31.70" y2="346.69" stroke="#000" stroke-width="0.8"/>
<text x="28.9" y="348.6" font-size="5.3" text-anchor="end">4</text>
<line x1="29.30" y1="331.65" x2="31.70" y2="331.65" stroke="#000" stroke-width="0.8"/>
<text x="28.9" y="333.56" font-size="5.3" text-anchor="end">5</text>
<line x1="59.00" y1="406.85" x2="59.00" y2="408.85" stroke="#000" stroke-width="0.7"/>
<text x="58.7" y="416.6" font-size="8.05" text-anchor="middle">Bcl-2</text>
<line x1="117.50" y1="406.85" x2="117.50" y2="408.85" stroke="#000" stroke-width="0.7"/>
<text x="117.5" y="416.6" font-size="8.05" text-anchor="middle">Bax</text>
<line x1="40.30" y1="387.80" x2="54.30" y2="387.80" stroke="#000" stroke-width="0.7"/>
<text x="47.3" y="390.20000000000005" font-size="13" text-anchor="middle" font-weight="normal">*</text>
<line x1="64.50" y1="393.90" x2="78.60" y2="393.90" stroke="#000" stroke-width="0.7"/>
<text x="71.6" y="396.3" font-size="13" text-anchor="middle" font-weight="normal">*</text>
<line x1="99.00" y1="345.80" x2="113.00" y2="345.80" stroke="#000" stroke-width="0.7"/>
<text x="105.5" y="348.20000000000005" font-size="13" text-anchor="middle" font-weight="normal">*</text>
<line x1="123.00" y1="345.80" x2="136.80" y2="345.80" stroke="#000" stroke-width="0.7"/>
<text x="130" y="348.20000000000005" font-size="13" text-anchor="middle" font-weight="normal">*</text>
<text x="11.3" y="369.2" font-size="9.25" text-anchor="middle" transform="rotate(-90 11.3 369.2)">Relative protein</text>
<text x="21.9" y="369.7" font-size="9.1" text-anchor="middle" transform="rotate(-90 21.9 369.7)">expression</text>
<rect x="32.70" y="297.15" width="8.50" height="4.4" fill="#005a00" stroke="#000" stroke-width="1.1"/>
<text x="45.7" y="301.31" font-size="6.13" text-anchor="start">miR-NC mimic</text>
<rect x="32.70" y="304.75" width="8.50" height="4.4" fill="#a00000" stroke="#000" stroke-width="1.1"/>
<text x="45.7" y="308.91" font-size="6.13" text-anchor="start">miR-1205 mimic</text>
<rect x="32.70" y="312.25" width="8.50" height="4.4" fill="#c86400" stroke="#000" stroke-width="1.1"/>
<text x="45.7" y="316.41" font-size="6.13" text-anchor="start">miR-1205 mimic+pcDNA-NC</text>
<rect x="32.70" y="320.05" width="8.50" height="4.4" fill="#808000" stroke="#000" stroke-width="1.1"/>
<text x="45.7" y="324.21" font-size="6.13" text-anchor="start">miR-1205 mimic+pcDNA-GRIK3</text>
<text x="89.5" y="292.9" font-size="8.2" text-anchor="middle">SW620</text>
<text x="171.7" y="286.8" font-size="16" text-anchor="start">F</text>
<line x1="217.85" y1="356.72" x2="217.85" y2="351.70" stroke="#000" stroke-width="0.7"/>
<line x1="215.72" y1="351.70" x2="219.97" y2="351.70" stroke="#000" stroke-width="0.7"/>
<rect x="213.60" y="356.72" width="8.50" height="50.13" fill="#005a00" stroke="#000" stroke-width="1.0"/>
<line x1="230.45" y1="384.79" x2="230.45" y2="382.28" stroke="#000" stroke-width="0.7"/>
<line x1="228.33" y1="382.28" x2="232.58" y2="382.28" stroke="#000" stroke-width="0.7"/>
<rect x="226.20" y="384.79" width="8.50" height="22.06" fill="#a00000" stroke="#000" stroke-width="1.0"/>
<line x1="242.95" y1="384.79" x2="242.95" y2="383.29" stroke="#000" stroke-width="0.7"/>
<line x1="240.83" y1="383.29" x2="245.08" y2="383.29" stroke="#000" stroke-width="0.7"/>
<rect x="238.70" y="384.79" width="8.50" height="22.06" fill="#c86400" stroke="#000" stroke-width="1.0"/>
<line x1="255.55" y1="366.74" x2="255.55" y2="363.74" stroke="#000" stroke-width="0.7"/>
<line x1="253.43" y1="363.74" x2="257.68" y2="363.74" stroke="#000" stroke-width="0.7"/>
<rect x="251.30" y="366.74" width="8.50" height="40.11" fill="#808000" stroke="#000" stroke-width="1.0"/>
<line x1="276.35" y1="356.72" x2="276.35" y2="352.71" stroke="#000" stroke-width="0.7"/>
<line x1="274.22" y1="352.71" x2="278.47" y2="352.71" stroke="#000" stroke-width="0.7"/>
<rect x="272.10" y="356.72" width="8.50" height="50.13" fill="#005a00" stroke="#000" stroke-width="1.0"/>
<line x1="288.95" y1="388.80" x2="288.95" y2="386.80" stroke="#000" stroke-width="0.7"/>
<line x1="286.82" y1="386.80" x2="291.07" y2="386.80" stroke="#000" stroke-width="0.7"/>
<rect x="284.70" y="388.80" width="8.50" height="18.05" fill="#a00000" stroke="#000" stroke-width="1.0"/>
<line x1="301.55" y1="388.80" x2="301.55" y2="386.80" stroke="#000" stroke-width="0.7"/>
<line x1="299.42" y1="386.80" x2="303.67" y2="386.80" stroke="#000" stroke-width="0.7"/>
<rect x="297.30" y="388.80" width="8.50" height="18.05" fill="#c86400" stroke="#000" stroke-width="1.0"/>
<line x1="314.05" y1="375.77" x2="314.05" y2="373.26" stroke="#000" stroke-width="0.7"/>
<line x1="311.92" y1="373.26" x2="316.17" y2="373.26" stroke="#000" stroke-width="0.7"/>
<rect x="309.80" y="375.77" width="8.50" height="31.08" fill="#808000" stroke="#000" stroke-width="1.0"/>
<line x1="209.20" y1="331.25" x2="209.20" y2="407.25" stroke="#000" stroke-width="0.9"/>
<line x1="208.80" y1="406.85" x2="322.00" y2="406.85" stroke="#000" stroke-width="0.9"/>
<line x1="206.80" y1="406.85" x2="209.20" y2="406.85" stroke="#000" stroke-width="0.8"/>
<text x="206.39999999999998" y="408.76" font-size="5.3" text-anchor="end">0.0</text>
<line x1="206.80" y1="381.78" x2="209.20" y2="381.78" stroke="#000" stroke-width="0.8"/>
<text x="206.39999999999998" y="383.69" font-size="5.3" text-anchor="end">0.5</text>
<line x1="206.80" y1="356.72" x2="209.20" y2="356.72" stroke="#000" stroke-width="0.8"/>
<text x="206.39999999999998" y="358.62" font-size="5.3" text-anchor="end">1.0</text>
<line x1="206.80" y1="331.65" x2="209.20" y2="331.65" stroke="#000" stroke-width="0.8"/>
<text x="206.39999999999998" y="333.56" font-size="5.3" text-anchor="end">1.5</text>
<line x1="236.80" y1="406.85" x2="236.80" y2="408.85" stroke="#000" stroke-width="0.7"/>
<text x="236.8" y="417.2" font-size="8.2" text-anchor="middle">SW480</text>
<line x1="295.30" y1="406.85" x2="295.30" y2="408.85" stroke="#000" stroke-width="0.7"/>
<text x="295.3" y="417.2" font-size="8.2" text-anchor="middle">SW620</text>
<line x1="217.00" y1="349.00" x2="232.20" y2="349.00" stroke="#000" stroke-width="0.7"/>
<text x="224.6" y="351.40000000000003" font-size="13" text-anchor="middle" font-weight="normal">*</text>
<line x1="241.00" y1="360.80" x2="256.00" y2="360.80" stroke="#000" stroke-width="0.7"/>
<text x="248.5" y="363.20000000000005" font-size="13" text-anchor="middle" font-weight="normal">*</text>
<line x1="275.30" y1="350.60" x2="290.50" y2="350.60" stroke="#000" stroke-width="0.7"/>
<text x="283.2" y="353.00000000000006" font-size="13" text-anchor="middle" font-weight="normal">*</text>
<line x1="300.00" y1="370.70" x2="314.80" y2="370.70" stroke="#000" stroke-width="0.7"/>
<text x="307.6" y="373.1" font-size="13" text-anchor="middle" font-weight="normal">*</text>
<text x="184.7" y="369.5" font-size="9.25" text-anchor="middle" transform="rotate(-90 184.7 369.5)">Relative migration</text>
<text x="195.3" y="369.2" font-size="9.25" text-anchor="middle" transform="rotate(-90 195.3 369.2)">distance</text>
<rect x="212.00" y="301.25" width="8.50" height="4.4" fill="#005a00" stroke="#000" stroke-width="1.1"/>
<text x="224.8" y="305.39" font-size="6.07" text-anchor="start">miR-NC mimic</text>
<rect x="212.00" y="308.75" width="8.50" height="4.4" fill="#a00000" stroke="#000" stroke-width="1.1"/>
<text x="224.8" y="312.89" font-size="6.07" text-anchor="start">miR-1205 mimic</text>
<rect x="212.00" y="316.55" width="8.50" height="4.4" fill="#c86400" stroke="#000" stroke-width="1.1"/>
<text x="224.8" y="320.69" font-size="6.07" text-anchor="start">miR-1205 mimic+pcDNA-NC</text>
<rect x="212.00" y="324.05" width="8.50" height="4.4" fill="#808000" stroke="#000" stroke-width="1.1"/>
<text x="224.8" y="328.19" font-size="6.07" text-anchor="start">miR-1205 mimic+pcDNA-GRIK3</text>
<text x="340.4" y="283.9" font-size="16" text-anchor="start">G</text>
<line x1="399.50" y1="352.33" x2="399.50" y2="348.57" stroke="#000" stroke-width="0.7"/>
<line x1="397.40" y1="348.57" x2="401.60" y2="348.57" stroke="#000" stroke-width="0.7"/>
<rect x="395.30" y="352.33" width="8.40" height="54.52" fill="#005a00" stroke="#000" stroke-width="1.0"/>
<line x1="412.10" y1="381.66" x2="412.10" y2="379.40" stroke="#000" stroke-width="0.7"/>
<line x1="410.00" y1="379.40" x2="414.20" y2="379.40" stroke="#000" stroke-width="0.7"/>
<rect x="407.90" y="381.66" width="8.40" height="25.19" fill="#a00000" stroke="#000" stroke-width="1.0"/>
<line x1="424.70" y1="380.53" x2="424.70" y2="378.27" stroke="#000" stroke-width="0.7"/>
<line x1="422.60" y1="378.27" x2="426.80" y2="378.27" stroke="#000" stroke-width="0.7"/>
<rect x="420.50" y="380.53" width="8.40" height="26.32" fill="#c86400" stroke="#000" stroke-width="1.0"/>
<line x1="437.20" y1="362.11" x2="437.20" y2="359.85" stroke="#000" stroke-width="0.7"/>
<line x1="435.10" y1="359.85" x2="439.30" y2="359.85" stroke="#000" stroke-width="0.7"/>
<rect x="433.00" y="362.11" width="8.40" height="44.74" fill="#808000" stroke="#000" stroke-width="1.0"/>
<line x1="458.10" y1="363.23" x2="458.10" y2="359.85" stroke="#000" stroke-width="0.7"/>
<line x1="456.00" y1="359.85" x2="460.20" y2="359.85" stroke="#000" stroke-width="0.7"/>
<rect x="453.90" y="363.23" width="8.40" height="43.62" fill="#005a00" stroke="#000" stroke-width="1.0"/>
<line x1="470.60" y1="388.05" x2="470.60" y2="386.17" stroke="#000" stroke-width="0.7"/>
<line x1="468.50" y1="386.17" x2="472.70" y2="386.17" stroke="#000" stroke-width="0.7"/>
<rect x="466.40" y="388.05" width="8.40" height="18.80" fill="#a00000" stroke="#000" stroke-width="1.0"/>
<line x1="483.00" y1="388.61" x2="483.00" y2="387.49" stroke="#000" stroke-width="0.7"/>
<line x1="480.90" y1="387.49" x2="485.10" y2="387.49" stroke="#000" stroke-width="0.7"/>
<rect x="478.80" y="388.61" width="8.40" height="18.24" fill="#c86400" stroke="#000" stroke-width="1.0"/>
<line x1="495.50" y1="368.12" x2="495.50" y2="364.74" stroke="#000" stroke-width="0.7"/>
<line x1="493.40" y1="364.74" x2="497.60" y2="364.74" stroke="#000" stroke-width="0.7"/>
<rect x="491.30" y="368.12" width="8.40" height="38.73" fill="#808000" stroke="#000" stroke-width="1.0"/>
<line x1="391.40" y1="331.25" x2="391.40" y2="407.25" stroke="#000" stroke-width="0.9"/>
<line x1="391.00" y1="406.85" x2="504.00" y2="406.85" stroke="#000" stroke-width="0.9"/>
<line x1="389.00" y1="406.85" x2="391.40" y2="406.85" stroke="#000" stroke-width="0.8"/>
<text x="388.59999999999997" y="408.76" font-size="5.3" text-anchor="end">0</text>
<line x1="389.00" y1="388.05" x2="391.40" y2="388.05" stroke="#000" stroke-width="0.8"/>
<text x="388.59999999999997" y="389.96" font-size="5.3" text-anchor="end">50</text>
<line x1="389.00" y1="369.25" x2="391.40" y2="369.25" stroke="#000" stroke-width="0.8"/>
<text x="388.59999999999997" y="371.16" font-size="5.3" text-anchor="end">100</text>
<line x1="389.00" y1="350.45" x2="391.40" y2="350.45" stroke="#000" stroke-width="0.8"/>
<text x="388.59999999999997" y="352.36" font-size="5.3" text-anchor="end">150</text>
<line x1="389.00" y1="331.65" x2="391.40" y2="331.65" stroke="#000" stroke-width="0.8"/>
<text x="388.59999999999997" y="333.56" font-size="5.3" text-anchor="end">200</text>
<line x1="418.90" y1="406.85" x2="418.90" y2="408.85" stroke="#000" stroke-width="0.7"/>
<text x="418.0" y="417.2" font-size="8.2" text-anchor="middle">SW480</text>
<line x1="476.70" y1="406.85" x2="476.70" y2="408.85" stroke="#000" stroke-width="0.7"/>
<text x="476.8" y="417.2" font-size="8.2" text-anchor="middle">SW620</text>
<line x1="398.00" y1="346.30" x2="413.50" y2="346.30" stroke="#000" stroke-width="0.7"/>
<text x="405.8" y="348.90000000000003" font-size="13" text-anchor="middle" font-weight="normal">*</text>
<line x1="424.00" y1="356.80" x2="438.80" y2="356.80" stroke="#000" stroke-width="0.7"/>
<text x="431.4" y="359.40000000000003" font-size="13" text-anchor="middle" font-weight="normal">*</text>
<line x1="456.70" y1="356.90" x2="471.80" y2="356.90" stroke="#000" stroke-width="0.7"/>
<text x="464.3" y="359.5" font-size="13" text-anchor="middle" font-weight="normal">*</text>
<line x1="482.20" y1="362.30" x2="497.00" y2="362.30" stroke="#000" stroke-width="0.7"/>
<text x="489.5" y="364.90000000000003" font-size="13" text-anchor="middle" font-weight="normal">*</text>
<text x="363.8" y="369.2" font-size="9.1" text-anchor="middle" transform="rotate(-90 363.8 369.2)">Number of migrated</text>
<text x="374.4" y="369.2" font-size="9.1" text-anchor="middle" transform="rotate(-90 374.4 369.2)">cells</text>
<rect x="391.80" y="300.75" width="8.60" height="4.4" fill="#005a00" stroke="#000" stroke-width="1.1"/>
<text x="404.6" y="304.89" font-size="6.08" text-anchor="start">miR-NC mimic</text>
<rect x="391.80" y="308.25" width="8.60" height="4.4" fill="#a00000" stroke="#000" stroke-width="1.1"/>
<text x="404.6" y="312.39" font-size="6.08" text-anchor="start">miR-1205 mimic</text>
<rect x="391.80" y="315.75" width="8.60" height="4.4" fill="#c86400" stroke="#000" stroke-width="1.1"/>
<text x="404.6" y="319.89" font-size="6.08" text-anchor="start">miR-1205 mimic+pcDNA-NC</text>
<rect x="391.80" y="323.55" width="8.60" height="4.4" fill="#808000" stroke="#000" stroke-width="1.1"/>
<text x="404.6" y="327.69" font-size="6.08" text-anchor="start">miR-1205 mimic+pcDNA-GRIK3</text>
<text x="520.95" y="284.0" font-size="16" text-anchor="start">H</text>
<line x1="573.25" y1="344.43" x2="573.25" y2="341.43" stroke="#000" stroke-width="0.7"/>
<line x1="571.20" y1="341.43" x2="575.30" y2="341.43" stroke="#000" stroke-width="0.7"/>
<rect x="569.15" y="344.43" width="8.20" height="62.42" fill="#005a00" stroke="#000" stroke-width="1.0"/>
<line x1="585.75" y1="378.65" x2="585.75" y2="376.39" stroke="#000" stroke-width="0.7"/>
<line x1="583.70" y1="376.39" x2="587.80" y2="376.39" stroke="#000" stroke-width="0.7"/>
<rect x="581.65" y="378.65" width="8.20" height="28.20" fill="#a00000" stroke="#000" stroke-width="1.0"/>
<line x1="598.35" y1="378.27" x2="598.35" y2="376.39" stroke="#000" stroke-width="0.7"/>
<line x1="596.30" y1="376.39" x2="600.40" y2="376.39" stroke="#000" stroke-width="0.7"/>
<rect x="594.25" y="378.27" width="8.20" height="28.58" fill="#c86400" stroke="#000" stroke-width="1.0"/>
<line x1="610.95" y1="358.35" x2="610.95" y2="356.09" stroke="#000" stroke-width="0.7"/>
<line x1="608.90" y1="356.09" x2="613.00" y2="356.09" stroke="#000" stroke-width="0.7"/>
<rect x="606.85" y="358.35" width="8.20" height="48.50" fill="#808000" stroke="#000" stroke-width="1.0"/>
<line x1="631.75" y1="358.35" x2="631.75" y2="355.34" stroke="#000" stroke-width="0.7"/>
<line x1="629.70" y1="355.34" x2="633.80" y2="355.34" stroke="#000" stroke-width="0.7"/>
<rect x="627.65" y="358.35" width="8.20" height="48.50" fill="#005a00" stroke="#000" stroke-width="1.0"/>
<line x1="644.35" y1="386.55" x2="644.35" y2="384.29" stroke="#000" stroke-width="0.7"/>
<line x1="642.30" y1="384.29" x2="646.40" y2="384.29" stroke="#000" stroke-width="0.7"/>
<rect x="640.25" y="386.55" width="8.20" height="20.30" fill="#a00000" stroke="#000" stroke-width="1.0"/>
<line x1="656.75" y1="386.92" x2="656.75" y2="385.79" stroke="#000" stroke-width="0.7"/>
<line x1="654.70" y1="385.79" x2="658.80" y2="385.79" stroke="#000" stroke-width="0.7"/>
<rect x="652.65" y="386.92" width="8.20" height="19.93" fill="#c86400" stroke="#000" stroke-width="1.0"/>
<line x1="669.25" y1="365.49" x2="669.25" y2="363.61" stroke="#000" stroke-width="0.7"/>
<line x1="667.20" y1="363.61" x2="671.30" y2="363.61" stroke="#000" stroke-width="0.7"/>
<rect x="665.15" y="365.49" width="8.20" height="41.36" fill="#808000" stroke="#000" stroke-width="1.0"/>
<line x1="564.50" y1="331.25" x2="564.50" y2="407.25" stroke="#000" stroke-width="0.9"/>
<line x1="564.10" y1="406.85" x2="677.60" y2="406.85" stroke="#000" stroke-width="0.9"/>
<line x1="562.10" y1="406.85" x2="564.50" y2="406.85" stroke="#000" stroke-width="0.8"/>
<text x="561.7" y="408.76" font-size="5.3" text-anchor="end">0</text>
<line x1="562.10" y1="388.05" x2="564.50" y2="388.05" stroke="#000" stroke-width="0.8"/>
<text x="561.7" y="389.96" font-size="5.3" text-anchor="end">50</text>
<line x1="562.10" y1="369.25" x2="564.50" y2="369.25" stroke="#000" stroke-width="0.8"/>
<text x="561.7" y="371.16" font-size="5.3" text-anchor="end">100</text>
<line x1="562.10" y1="350.45" x2="564.50" y2="350.45" stroke="#000" stroke-width="0.8"/>
<text x="561.7" y="352.36" font-size="5.3" text-anchor="end">150</text>
<line x1="562.10" y1="331.65" x2="564.50" y2="331.65" stroke="#000" stroke-width="0.8"/>
<text x="561.7" y="333.56" font-size="5.3" text-anchor="end">200</text>
<line x1="592.50" y1="406.85" x2="592.50" y2="408.85" stroke="#000" stroke-width="0.7"/>
<text x="592.0" y="417.2" font-size="8.2" text-anchor="middle">SW480</text>
<line x1="651.00" y1="406.85" x2="651.00" y2="408.85" stroke="#000" stroke-width="0.7"/>
<text x="650.5" y="417.2" font-size="8.2" text-anchor="middle">SW620</text>
<line x1="572.20" y1="339.30" x2="587.50" y2="339.30" stroke="#000" stroke-width="0.7"/>
<text x="579.5" y="341.70000000000005" font-size="13" text-anchor="middle" font-weight="normal">*</text>
<line x1="597.00" y1="354.00" x2="612.00" y2="354.00" stroke="#000" stroke-width="0.7"/>
<text x="604.3" y="356.40000000000003" font-size="13" text-anchor="middle" font-weight="normal">*</text>
<line x1="631.00" y1="352.80" x2="646.00" y2="352.80" stroke="#000" stroke-width="0.7"/>
<text x="638.5" y="355.20000000000005" font-size="13" text-anchor="middle" font-weight="normal">*</text>
<line x1="655.70" y1="361.50" x2="670.50" y2="361.50" stroke="#000" stroke-width="0.7"/>
<text x="663" y="363.90000000000003" font-size="13" text-anchor="middle" font-weight="normal">*</text>
<text x="537.3" y="369.1" font-size="9.15" text-anchor="middle" transform="rotate(-90 537.3 369.1)">Number of invaded</text>
<text x="547.8" y="369.2" font-size="9.1" text-anchor="middle" transform="rotate(-90 547.8 369.2)">cells</text>
<rect x="565.80" y="300.25" width="8.50" height="4.4" fill="#005a00" stroke="#000" stroke-width="1.1"/>
<text x="578.8" y="304.39" font-size="6.08" text-anchor="start">miR-NC mimic</text>
<rect x="565.80" y="307.75" width="8.50" height="4.4" fill="#a00000" stroke="#000" stroke-width="1.1"/>
<text x="578.8" y="311.89" font-size="6.08" text-anchor="start">miR-1205 mimic</text>
<rect x="565.80" y="315.55" width="8.50" height="4.4" fill="#c86400" stroke="#000" stroke-width="1.1"/>
<text x="578.8" y="319.69" font-size="6.08" text-anchor="start">miR-1205 mimic+pcDNA-NC</text>
<rect x="565.80" y="323.35" width="8.50" height="4.4" fill="#808000" stroke="#000" stroke-width="1.1"/>
<text x="578.8" y="327.49" font-size="6.08" text-anchor="start">miR-1205 mimic+pcDNA-GRIK3</text>
</svg>
</body></html>
